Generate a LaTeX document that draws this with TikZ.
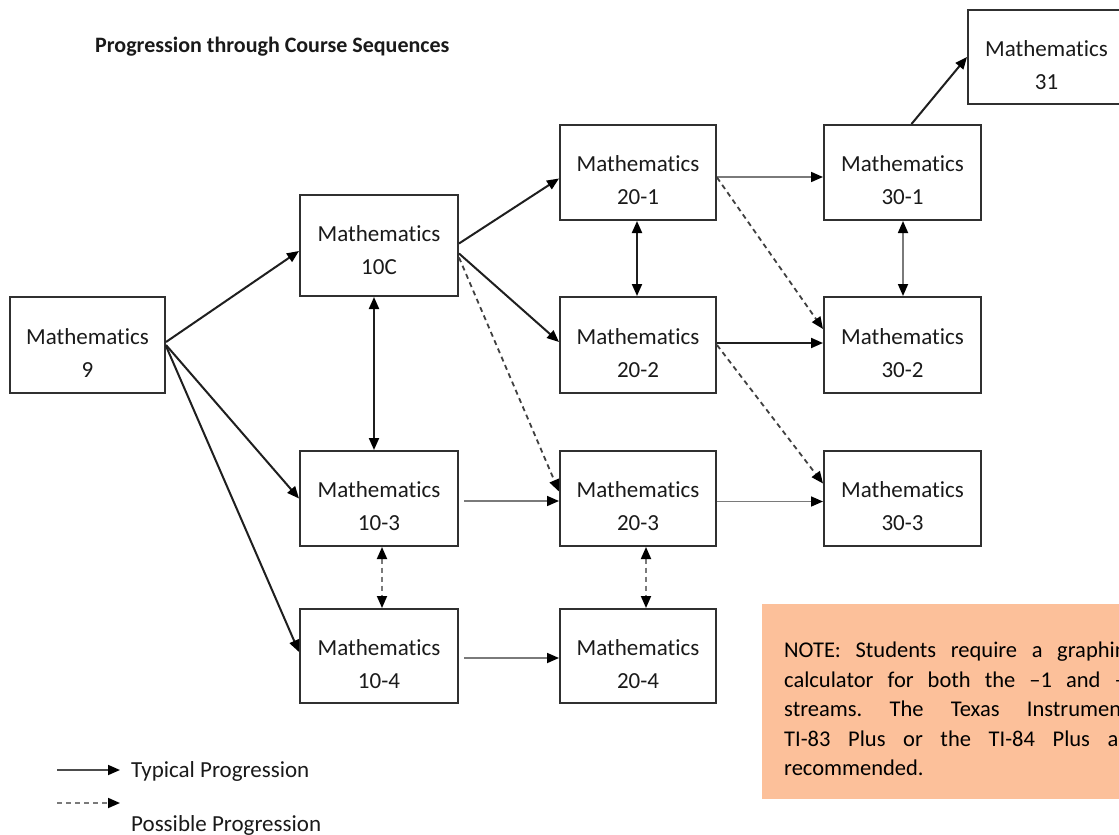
\documentclass[tikz,border=0pt]{standalone}
\usepackage{fontspec}
\setmainfont{Carlito}[Ligatures={TeX,NoCommon}]
\usetikzlibrary{arrows.meta,calc}
\frenchspacing
\definecolor{txt}{HTML}{1A1A1A}
\definecolor{boxc}{HTML}{303030}
\definecolor{notefill}{HTML}{FCC09A}
\definecolor{graya}{HTML}{7A7A7A}
\begin{document}
\begin{tikzpicture}[x=1pt,y=-1pt,
  mbox/.style={draw=boxc, line width=2pt, minimum width=156pt, minimum height=95pt, inner sep=0pt, fill=white},
  btxt/.style={align=center, font=\fontsize{23}{33}\selectfont, text=txt, inner sep=0pt},
  tipa/.tip={Triangle[length=12pt,width=10pt,color=black]},
  typarr/.style={draw=black!88, line width=2pt, -tipa},
  typgarr/.style={draw=graya, line width=1.7pt, -tipa},
  posarr/.style={draw=black!75, line width=1.8pt, dash pattern=on 5pt off 4pt, -tipa},
  dblarr/.style={tipa-tipa},
  legtxt/.style={anchor=base west, font=\fontsize{23}{27}\selectfont, text=txt, inner sep=0pt}
]
\useasboundingbox (0,0) rectangle (1119,835);
\fill[white] (0,0) rectangle (1119,835);

% title
\node[anchor=base west, font=\fontsize{22}{27}\selectfont\bfseries, text=txt, inner sep=0pt] (title) at (95,52) {Progression through Course Sequences};

% boxes
\node[mbox, minimum width=155pt, minimum height=96pt] (m9) at (87.5,345) {};
\node[mbox, minimum width=158pt, minimum height=101pt] (m10c) at (379,245.5) {};
\node[mbox, minimum width=158pt] (m103) at (379,498.5) {};
\node[mbox, minimum width=158pt, minimum height=94pt] (m104) at (379,656) {};
\node[mbox] (m201) at (638,172.5) {};
\node[mbox, minimum height=96pt] (m202) at (638,345) {};
\node[mbox] (m203) at (638,498.5) {};
\node[mbox, minimum height=94pt] (m204) at (638,656) {};
\node[mbox, minimum width=157pt] (m301) at (902.5,172.5) {};
\node[mbox, minimum width=157pt, minimum height=96pt] (m302) at (902.5,345) {};
\node[mbox, minimum width=157pt] (m303) at (902.5,498.5) {};
\node[mbox, minimum width=157pt, minimum height=94pt] (m31) at (1046.5,57) {};

% box texts
\node[btxt] (t9) at ($(m9.center)+(0,8)$) {Mathematics\\9};
\node[btxt] (t10c) at ($(m10c.center)+(0,5)$) {Mathematics\\10C};
\node[btxt] (t103) at ($(m103.center)+(0,8)$) {Mathematics\\10-3};
\node[btxt] (t104) at ($(m104.center)+(0,8)$) {Mathematics\\10-4};
\node[btxt] (t201) at ($(m201.center)+(0,8)$) {Mathematics\\20-1};
\node[btxt] (t202) at ($(m202.center)+(0,8)$) {Mathematics\\20-2};
\node[btxt] (t203) at ($(m203.center)+(0,8)$) {Mathematics\\20-3};
\node[btxt] (t204) at ($(m204.center)+(0,8)$) {Mathematics\\20-4};
\node[btxt] (t301) at ($(m301.center)+(0,8)$) {Mathematics\\30-1};
\node[btxt] (t302) at ($(m302.center)+(0,8)$) {Mathematics\\30-2};
\node[btxt] (t303) at ($(m303.center)+(0,8)$) {Mathematics\\30-3};
\node[btxt] (t31) at ($(m31.center)+(0,8)$) {Mathematics\\31};

% connectors
\draw[typarr] ($(m9.east)+(0,-3)$) -- ($(m10c.west)+(0,5.5)$);
\draw[typarr] (m9.east) -- (m103.west);
\draw[typarr] ($(m9.east)+(0,1)$) -- ($(m104.west)+(0,-4)$);
\draw[typarr] ($(m10c.east)+(0,-2)$) -- ($(m201.west)+(0,6)$);
\draw[typarr] ($(m10c.east)+(0,8)$) -- ($(m202.west)+(0,-3)$);
\draw[posarr] ($(m10c.east)+(0,12)$) -- ($(m203.west)+(0,-7)$);
\draw[typarr,dblarr] ($(m10c.south)+(-5,0)$) -- ($(m103.north)+(-5,0)$);
\draw[typarr,dblarr] ($(m201.south)+(-1,0)$) -- ($(m202.north)+(-1,0)$);
\draw[typgarr] ($(m201.east)+(0,4.5)$) -- ($(m301.west)+(0,4.5)$);
\draw[posarr] ($(m201.east)+(0,5)$) -- ($(m302.west)+(0,-16)$);
\draw[typarr] ($(m202.east)+(0,-2)$) -- ($(m302.west)+(0,-2)$);
\draw[posarr] (m202.east) -- ($(m303.west)+(0,-15)$);
\draw[typgarr] ($(m103.east)+(5,2.5)$) -- ($(m203.west)+(0,2.5)$);
\draw[typgarr] ($(m203.east)+(0,3)$) -- ($(m303.west)+(0,3)$);
\draw[posarr,draw=graya,dblarr] ($(m103.south)+(3,0)$) -- ($(m104.north)+(3,0)$);
\draw[posarr,draw=graya,dblarr] ($(m203.south)+(8,0)$) -- ($(m204.north)+(8,0)$);
\draw[typgarr] ($(m104.east)+(5,2)$) -- ($(m204.west)+(0,2)$);
\draw[typgarr,dblarr] ($(m301.south)+(0.5,0)$) -- ($(m302.north)+(0.5,0)$);
\draw[typarr] ($(m301.north)+(9,0)$) -- (m31.west);

% note
\node[fill=notefill, minimum width=400pt, minimum height=195pt, anchor=north west, inner sep=0pt] (note) at (762,604) {};
\node[anchor=north west, text width=353pt, align=justify, font=\fontsize{22.5}{29.5}\selectfont, text=black, inner sep=0pt] (notetxt) at (784,642) {NOTE: Students require a graphing\linebreak calculator for both the –1 and –2\linebreak streams. The Texas Instruments\linebreak TI-83 Plus or the TI-84 Plus are\linebreak recommended.};

% legend
\coordinate (l1a) at (57,770);
\coordinate (l1b) at (120,770);
\coordinate (l2a) at (57,803);
\coordinate (l2b) at (120,803);
\draw[typgarr,draw=black!70] (l1a) -- (l1b);
\draw[posarr,draw=graya] (l2a) -- (l2b);
\node[legtxt] (leg1) at (131,777) {Typical Progression};
\node[legtxt] (leg2) at (131,831) {Possible Progression};
\end{tikzpicture}
\end{document}
